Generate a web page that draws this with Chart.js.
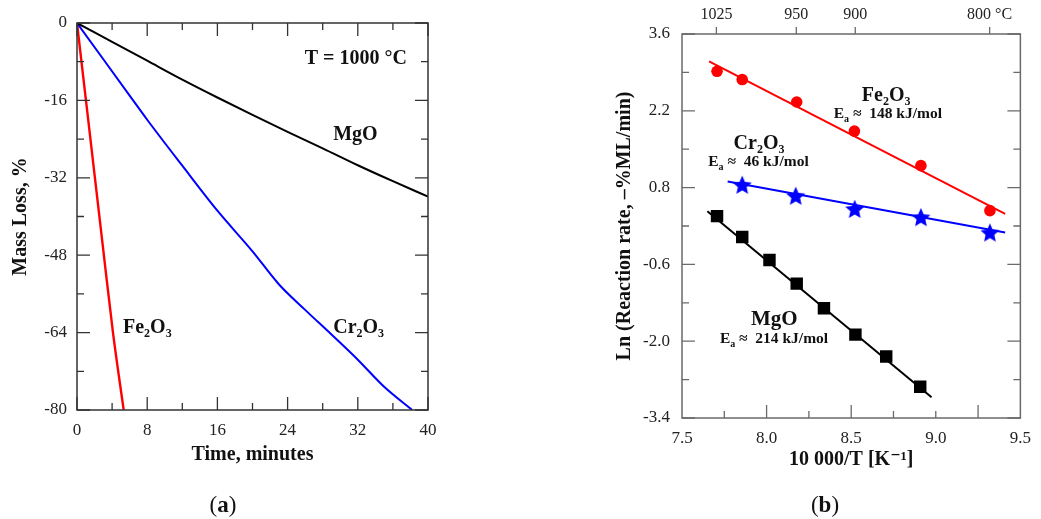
<!DOCTYPE html>
<html>
<head>
<meta charset="utf-8">
<script src="https://cdn.jsdelivr.net/npm/chart.js@4.4.1/dist/chart.umd.min.js"></script>
<style>
  html, body { margin: 0; padding: 0; background: #fff; }
  #wrap { position: relative; width: 1041px; height: 519px; }
  #boxA { position: absolute; left: 0; top: 0; width: 460px; height: 519px; }
  #boxB { position: absolute; left: 560px; top: 0; width: 481px; height: 519px; }
</style>
</head>
<body>
<div id="wrap">
  <div id="boxA"><canvas id="chartA" width="460" height="519"></canvas></div>
  <div id="boxB"><canvas id="chartB" width="481" height="519"></canvas></div>
</div>
<script>
// (a) MASS LOSS AT 1000 C
const timeMgO = [0, 4, 8, 12, 16, 20, 24, 28, 32, 36, 40];
const lossMgO = [0, -3.9, -7.8, -11.7, -15.4, -19.0, -22.5, -25.9, -29.4, -32.7, -35.9];
const timeCr = [0, 3, 6, 8, 12, 16, 20, 23, 26, 29, 32, 35, 38.2];
const lossCr = [0, -7.5, -15, -20, -29.5, -38.8, -47.2, -54, -59.3, -64.4, -69.6, -75.2, -80];
const timeFe = [0, 1.5, 3, 4.1, 5.32];
const lossFe = [0, -23.5, -47, -64, -80];
const xTicksA = [0, 8, 16, 24, 32, 40];
const yTicksA = [-80, -64, -48, -32, -16, 0];

// (b) ARRHENIUS PLOT
const invT_Fe = [7.707, 7.856, 8.178, 8.519, 8.912, 9.32];
const lnRate_Fe = [2.92, 2.77, 2.36, 1.83, 1.20, 0.38];
const fitFeX = [7.66, 9.41];
const fitFeY = [3.10, 0.32];
const invT_Cr = [7.856, 8.172, 8.521, 8.912, 9.32];
const lnRate_Cr = [0.85, 0.65, 0.41, 0.26, -0.02];
const fitCrX = [7.77, 9.41];
const fitCrY = [0.91, -0.02];
const invT_Mg = [7.707, 7.856, 8.017, 8.178, 8.339, 8.525, 8.707, 8.908];
const lnRate_Mg = [0.28, -0.10, -0.52, -0.95, -1.40, -1.88, -2.28, -2.83];
const fitMgX = [7.65, 8.975];
const fitMgY = [0.37, -3.02];
const xTicksB = [7.5, 8.0, 8.5, 9.0, 9.5];
const yTicksB = [-3.4, -2.0, -0.6, 0.8, 2.2, 3.6];
const topTempsC = [1025, 950, 900, 800];
const topLabels = ['1025', '950', '900', '800 °C'];

const FONT = "'Liberation Serif', 'DejaVu Serif', serif";
Chart.defaults.font.family = FONT;
Chart.defaults.color = '#111';

function pts(xs, ys) {
    return xs.map((x, i) => ({x: x, y: ys[i]}));
}

// filled five point star used as point style
function makeStar(color, r) {
    let c = document.createElement('canvas');
    c.width = c.height = Math.ceil(r * 2 + 2);
    let g = c.getContext('2d');
    let cx = c.width / 2, cy = c.height / 2 + 0.8;
    g.beginPath();
    for (let i = 0; i < 10; i++) {
        let rr = i % 2 === 0 ? r : r * 0.46;
        let a = -Math.PI / 2 + i * Math.PI / 5;
        g.lineTo(cx + rr * Math.cos(a), cy + rr * Math.sin(a));
    }
    g.closePath();
    g.fillStyle = color;
    g.fill();
    return c;
}

// text with "_x" subscripts
function drawRich(ctx, x, y, text, size, align) {
    let segs = [];
    for (let i = 0; i < text.length; i++) {
        if (text[i] === '_') { segs.push([text[i + 1], true]); i++; }
        else {
            if (segs.length && !segs[segs.length - 1][1]) segs[segs.length - 1][0] += text[i];
            else segs.push([text[i], false]);
        }
    }
    const big = 'bold ' + size + 'px ' + FONT;
    const small = 'bold ' + Math.round(size * 0.62) + 'px ' + FONT;
    let w = 0;
    segs.forEach(s => { ctx.font = s[1] ? small : big; w += ctx.measureText(s[0]).width; });
    let cx = align === 'right' ? x - w : (align === 'center' ? x - w / 2 : x);
    ctx.textBaseline = 'alphabetic';
    ctx.textAlign = 'left';
    segs.forEach(s => {
        ctx.font = s[1] ? small : big;
        ctx.fillText(s[0], cx, y + size * 0.34 + (s[1] ? size * 0.22 : 0));
        cx += ctx.measureText(s[0]).width;
    });
}

// frame, inward ticks, annotations
const framePlugin = {
    id: 'frame',
    afterDatasetsDraw(chart, args, o) {
        const {ctx, chartArea: a, scales} = chart;
        const xs = scales.x, ys = scales.y;
        ctx.save();
        ctx.strokeStyle = o.color;
        ctx.lineWidth = 1.5;
        ctx.strokeRect(a.left, a.top, a.right - a.left, a.bottom - a.top);
        ctx.lineWidth = 1.3;
        ctx.beginPath();
        const xt = (v, len) => {
            let p = xs.getPixelForValue(v);
            ctx.moveTo(p, a.bottom); ctx.lineTo(p, a.bottom - len);
            if (o.topIn) { ctx.moveTo(p, a.top); ctx.lineTo(p, a.top + len); }
        };
        const yt = (v, len) => {
            let p = ys.getPixelForValue(v);
            ctx.moveTo(a.left, p); ctx.lineTo(a.left + len, p);
            ctx.moveTo(a.right, p); ctx.lineTo(a.right - len, p);
        };
        o.majorX.forEach(v => xt(v, 13));
        o.minorX.forEach(v => xt(v, 7));
        o.majorY.forEach(v => yt(v, 13));
        o.minorY.forEach(v => yt(v, 7));
        if (scales.x2) {
            scales.x2.ticks.forEach(t => {
                let p = scales.x2.getPixelForValue(t.value);
                ctx.moveTo(p, a.top); ctx.lineTo(p, a.top - 7);
            });
        }
        ctx.stroke();
        ctx.fillStyle = '#111';
        o.labels.forEach(l => {
            drawRich(ctx, xs.getPixelForValue(l.x), ys.getPixelForValue(l.y), l.text, l.size, l.align || 'left');
        });
        // panel caption
        ctx.textBaseline = 'middle';
        ctx.font = '23px ' + FONT;
        let pw = ctx.measureText('(').width;
        ctx.font = 'bold 23px ' + FONT;
        let lw = ctx.measureText(o.caption).width;
        let cx = o.capX - (lw + 2 * pw) / 2;
        ctx.textAlign = 'left';
        ctx.font = '23px ' + FONT;
        ctx.fillText('(', cx, 506);
        ctx.font = 'bold 23px ' + FONT;
        ctx.fillText(o.caption, cx + pw, 506);
        ctx.font = '23px ' + FONT;
        ctx.fillText(')', cx + pw + lw, 506);
        ctx.restore();
    }
};

const tickFont = {family: FONT, size: 17};
const titleFont = {family: FONT, size: 20, weight: 'bold'};

// CHART A
new Chart(document.getElementById('chartA'), {
    type: 'scatter',
    data: {
        datasets: [
            {data: pts(timeMgO, lossMgO), showLine: true, borderColor: '#000', borderWidth: 2, pointRadius: 0, cubicInterpolationMode: 'monotone'},
            {data: pts(timeCr, lossCr), showLine: true, borderColor: '#0000ff', borderWidth: 2, pointRadius: 0, cubicInterpolationMode: 'monotone'},
            {data: pts(timeFe, lossFe), showLine: true, borderColor: '#ff0000', borderWidth: 2.4, pointRadius: 0, cubicInterpolationMode: 'monotone'}
        ]
    },
    options: {
        responsive: false,
        animation: false,
        layout: {padding: {top: 23, right: 32, left: 0, bottom: 0}},
        plugins: {
            legend: {display: false},
            tooltip: {enabled: false},
            frame: {
                color: '#333',
                topIn: true,
                majorX: xTicksA, minorX: [4, 12, 20, 28, 36],
                majorY: yTicksA, minorY: [-72, -56, -40, -24, -8],
                caption: 'a', capX: 223,
                labels: [
                    {x: 37.6, y: -7.0, text: 'T = 1000 °C', size: 20, align: 'right'},
                    {x: 29.2, y: -22.7, text: 'MgO', size: 20},
                    {x: 29.2, y: -62.6, text: 'Cr_2O_3', size: 20},
                    {x: 5.24, y: -62.6, text: 'Fe_2O_3', size: 20}
                ]
            }
        },
        scales: {
            x: {
                type: 'linear', min: 0, max: 40,
                afterBuildTicks: s => { s.ticks = xTicksA.map(v => ({value: v})); },
                afterFit: s => { s.height = 109; },
                grid: {display: false, drawTicks: false},
                border: {display: false},
                ticks: {font: tickFont, color: '#222', padding: 10, maxRotation: 0, autoSkip: false},
                title: {display: true, text: 'Time, minutes', font: titleFont, color: '#111', padding: {top: 0, bottom: 52}}
            },
            y: {
                type: 'linear', min: -80, max: 0,
                afterBuildTicks: s => { s.ticks = yTicksA.map(v => ({value: v})); },
                afterFit: s => { s.width = 77; },
                grid: {display: false, drawTicks: false},
                border: {display: false},
                ticks: {font: tickFont, color: '#222', padding: 10, autoSkip: false},
                title: {display: true, text: 'Mass Loss, %', font: titleFont, color: '#111', padding: {top: 9, bottom: 0}}
            }
        }
    },
    plugins: [framePlugin]
});

// CHART B
const starBlue = makeStar('#0000ff', 10);
new Chart(document.getElementById('chartB'), {
    type: 'scatter',
    data: {
        datasets: [
            {data: pts(fitFeX, fitFeY), showLine: true, borderColor: '#ff0000', borderWidth: 2, pointRadius: 0},
            {data: pts(fitCrX, fitCrY), showLine: true, borderColor: '#0000ff', borderWidth: 2, pointRadius: 0},
            {data: pts(fitMgX, fitMgY), showLine: true, borderColor: '#000', borderWidth: 2, pointRadius: 0},
            {data: pts(invT_Fe, lnRate_Fe), pointStyle: 'circle', pointRadius: 5.8, backgroundColor: '#ff0000', borderWidth: 0},
            {data: pts(invT_Cr, lnRate_Cr), pointStyle: starBlue, pointRadius: 9, backgroundColor: '#0000ff', borderWidth: 0},
            {data: pts(invT_Mg, lnRate_Mg), pointStyle: 'rect', pointRadius: 8.8, backgroundColor: '#000', borderWidth: 0}
        ]
    },
    options: {
        responsive: false,
        animation: false,
        layout: {padding: {top: 0, right: 11, left: 0, bottom: 0}},
        plugins: {
            legend: {display: false},
            tooltip: {enabled: false},
            frame: {
                color: '#6a6a6a',
                topIn: false,
                majorX: [8.0, 8.5, 9.25], minorX: [7.75, 8.25, 8.75, 9.0],
                majorY: yTicksB, minorY: [-2.7, -1.3, 0.1, 1.5, 2.9],
                caption: 'b', capX: 265,
                labels: [
                    {x: 8.563, y: 2.506, text: 'Fe_2O_3', size: 20},
                    {x: 8.397, y: 2.16, text: 'E_a ≈  148 kJ/mol', size: 15.5},
                    {x: 7.805, y: 1.631, text: 'Cr_2O_3', size: 20},
                    {x: 7.655, y: 1.285, text: 'E_a ≈  46 kJ/mol', size: 15.5},
                    {x: 7.908, y: -1.577, text: 'MgO', size: 21},
                    {x: 7.724, y: -1.941, text: 'E_a ≈  214 kJ/mol', size: 15.5}
                ]
            }
        },
        scales: {
            x: {
                type: 'linear', min: 7.5, max: 9.5,
                afterBuildTicks: s => { s.ticks = xTicksB.map(v => ({value: v})); },
                afterFit: s => { s.height = 101; },
                grid: {display: false, drawTicks: false},
                border: {display: false},
                ticks: {font: tickFont, color: '#222', padding: 10, maxRotation: 0, autoSkip: false, callback: v => v.toFixed(1)},
                title: {display: true, text: '10 000/T [K⁻¹]', font: titleFont, color: '#111', padding: {top: 0, bottom: 47}}
            },
            x2: {
                type: 'linear', position: 'top', min: 7.5, max: 9.5,
                afterBuildTicks: s => { s.ticks = topTempsC.map(t => ({value: 10000 / (t + 273.15)})); },
                afterFit: s => { s.height = 34; },
                grid: {display: false, drawTicks: false},
                border: {display: false},
                ticks: {font: {family: FONT, size: 16}, color: '#222', padding: 10, maxRotation: 0, autoSkip: false, callback: (v, i) => topLabels[i]}
            },
            y: {
                type: 'linear', min: -3.4, max: 3.6,
                afterBuildTicks: s => { s.ticks = yTicksB.map(v => ({value: v})); },
                afterFit: s => { s.width = 122; },
                grid: {display: false, drawTicks: false},
                border: {display: false},
                ticks: {font: tickFont, color: '#222', padding: 12, autoSkip: false, callback: v => v.toFixed(1)},
                title: {display: true, text: 'Ln (Reaction rate, –%ML/min)', font: titleFont, color: '#111', padding: {top: 53, bottom: 0}}
            }
        }
    },
    plugins: [framePlugin]
});
</script>
</body>
</html>
